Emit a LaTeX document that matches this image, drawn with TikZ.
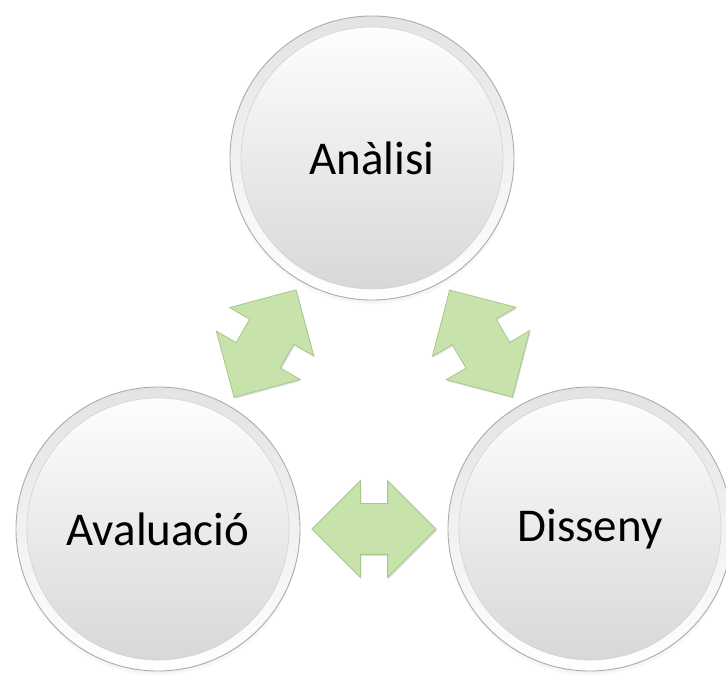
\documentclass[tikz,border=0pt]{standalone}
\usepackage{fontspec}
\setmainfont{Carlito}
\usetikzlibrary{calc, shapes.arrows, shadows}
\definecolor{arrowFill}{RGB}{200,226,172}
\definecolor{arrowEdge}{RGB}{168,200,138}
\tikzstyle{cStage} = [circle, minimum size=284pt, inner sep=0pt, draw=gray!65, line width=0.9pt, top color=gray!22, bottom color=white, font=\fontsize{47}{56}\selectfont, circular drop shadow={shadow scale=1.0, shadow xshift=0pt, shadow yshift=-5pt, opacity=0.45}, path picture={\shade[top color=white, bottom color=gray!32] (path picture bounding box.center) circle (131pt); \draw[gray!35, line width=0.6pt] (path picture bounding box.center) circle (131pt);}]
\tikzstyle{cArrow} = [double arrow, double arrow tip angle=90, double arrow head extend=23pt, minimum height=124pt, minimum width=96pt, inner xsep=0pt, inner ysep=25pt, fill=arrowFill, draw=arrowEdge, line width=0.8pt, drop shadow={shadow xshift=1pt, shadow yshift=-1.5pt, opacity=0.25}]

\begin{document}
\begin{tikzpicture}[x=1pt, y=1pt]
    \useasboundingbox (0,0) rectangle (726,675);
    \node (ana) [cStage] at (372,517) {Anàlisi};
    \node (aval) [cStage] at (158,146) {Avaluació};
    \node (dis) [cStage] at (590,146) {Disseny};

    \path let \p1 = ($(ana)-(aval)$), \n1 = {atan2(\y1,\x1)} in
        node (avalana) [cArrow, rotate=\n1] at ($(aval)!0.5!(ana)$) {};
    \path let \p1 = ($(ana)-(dis)$), \n1 = {atan2(\y1,\x1)} in
        node (disana) [cArrow, rotate=\n1] at ($(dis)!0.5!(ana)$) {};
    \node (avaldis) [cArrow] at ($(aval)!0.5!(dis)$) {};
\end{tikzpicture}
\end{document}
